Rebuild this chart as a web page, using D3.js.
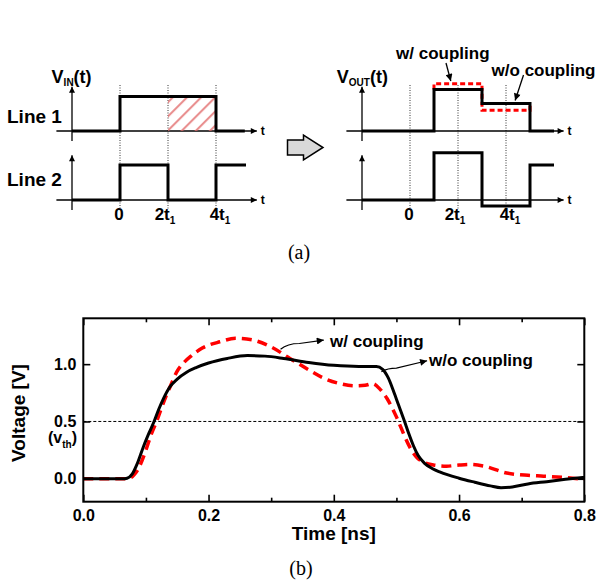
<!DOCTYPE html>
<html lang="en">
<head>
<meta charset="utf-8" />
<title>Coupling waveforms</title>
<script src="https://cdn.jsdelivr.net/npm/d3@7"></script>
<style>
  body { margin: 0; background: #fff; }
  svg text { font-family: "Liberation Sans", Arial, sans-serif; font-weight: bold; fill: #000; }
</style>
</head>
<body>
<script>
// ---- (b) simulated waveforms: time [ns], voltage [V]
var timeNoCoupling = [0, 0.062, 0.07, 0.078, 0.086, 0.096, 0.105, 0.113, 0.12, 0.128, 0.138, 0.15, 0.165, 0.18, 0.2, 0.23, 0.262, 0.29, 0.32, 0.36, 0.4, 0.44, 0.468, 0.478, 0.487, 0.495, 0.503, 0.513, 0.52, 0.527, 0.535, 0.545, 0.557, 0.57, 0.6, 0.625, 0.65, 0.667, 0.685, 0.71, 0.74, 0.77, 0.8];
var voltNoCoupling = [0, 0, 0.005, 0.04, 0.13, 0.28, 0.4, 0.5, 0.6, 0.7, 0.8, 0.87, 0.93, 0.97, 1.01, 1.05, 1.075, 1.07, 1.05, 1.015, 0.99, 0.98, 0.98, 0.955, 0.88, 0.77, 0.65, 0.5, 0.39, 0.29, 0.2, 0.135, 0.09, 0.058, 0.005, -0.03, -0.062, -0.078, -0.072, -0.045, -0.025, -0.005, 0.012];
var timeCoupling = [0, 0.066, 0.074, 0.082, 0.09, 0.1, 0.108, 0.117, 0.125, 0.132, 0.14, 0.149, 0.16, 0.172, 0.19, 0.218, 0.243, 0.271, 0.3, 0.33, 0.36, 0.383, 0.41, 0.434, 0.45, 0.462, 0.474, 0.485, 0.493, 0.5, 0.507, 0.514, 0.522, 0.532, 0.545, 0.559, 0.58, 0.6, 0.617, 0.64, 0.676, 0.71, 0.735, 0.77, 0.8];
var voltCoupling = [0, 0, 0.005, 0.04, 0.11, 0.25, 0.38, 0.5, 0.62, 0.72, 0.82, 0.93, 1.01, 1.07, 1.14, 1.195, 1.225, 1.21, 1.15, 1.05, 0.95, 0.88, 0.83, 0.81, 0.815, 0.83, 0.78, 0.7, 0.62, 0.54, 0.45, 0.36, 0.27, 0.19, 0.14, 0.12, 0.11, 0.12, 0.125, 0.11, 0.05, 0.03, 0.023, 0.01, -0.005];
var timeTicks = [0, 0.2, 0.4, 0.6, 0.8];
var timeMinorTicks = [0.1, 0.3, 0.5, 0.7];
var voltTicks = [0, 0.5, 1.0];
var vth = 0.5;

// ---- (a) idealised steps: time in units of t1, level relative to supply
var schemTicks = [0, 2, 4];
var schemTickMain = ["0", "2t", "4t"];
var schemTickSub = ["", "1", "1"];
var in1Time = [-2, 0, 4, 5.2];
var in1Level = [0, 1, 0, 0];
var in2Time = [-2, 0, 2, 4, 5.25];
var in2Level = [0, 1, 0, 1, 1];
var out1Time = [-2, 1, 3, 5, 6];
var out1Level = [0, 1.2, 0.8, 0, 0];
var out1CoupTime = [1, 1, 3, 5];
var out1CoupLevel = [1.2, 1.37, 0.6, 0.8];
var out2Time = [-2, 1, 3, 5, 6];
var out2Level = [0, 1.35, -0.17, 1.0, 1.0];
var hatchTime = [2, 4];

var w = 600, h = 582;
var svg = d3.select("body").append("svg").attr("width", w).attr("height", h);
var defs = svg.append("defs");

defs.append("marker").attr("id", "arr")
  .attr("viewBox", "0 0 10 10").attr("refX", 10).attr("refY", 5)
  .attr("markerUnits", "userSpaceOnUse").attr("markerWidth", 9).attr("markerHeight", 7)
  .attr("orient", "auto")
  .append("path").attr("d", "M0,0L10,5L0,10z").attr("fill", "#000");

defs.append("marker").attr("id", "axarr")
  .attr("viewBox", "0 0 10 10").attr("refX", 10).attr("refY", 5)
  .attr("markerUnits", "userSpaceOnUse").attr("markerWidth", 7).attr("markerHeight", 6)
  .attr("orient", "auto")
  .append("path").attr("d", "M0,0L10,5L0,10z").attr("fill", "#000");

var pat = defs.append("pattern").attr("id", "hatch")
  .attr("patternUnits", "userSpaceOnUse").attr("width", 10).attr("height", 10)
  .attr("patternTransform", "rotate(45)");
pat.append("line").attr("x1", 1).attr("y1", 0).attr("x2", 1).attr("y2", 10)
  .attr("stroke", "#e26a6a").attr("stroke-width", 2.2).attr("opacity", 0.75);

// ================= (a) =================
var xLeft = d3.scaleLinear().domain([0, 4]).range([120, 216]);
var xRight = d3.scaleLinear().domain([0, 4]).range([410, 506]);
var yRow1 = d3.scaleLinear().domain([0, 1]).range([131, 96.5]);
var yRow2 = d3.scaleLinear().domain([0, 1]).range([200, 165]);

function stepPath(x, y) {
  return d3.line().x(function(d) { return x(d[0]); }).y(function(d) { return y(d[1]); })
    .curve(d3.curveStepAfter);
}

function schemAxes(x, y, tEnd) {
  // horizontal time axis
  svg.append("line")
    .attr("x1", x(-2.65)).attr("x2", x(tEnd)).attr("y1", y(0)).attr("y2", y(0))
    .attr("stroke", "#000").attr("stroke-width", 1.3).attr("marker-end", "url(#axarr)");
  svg.append("text").attr("x", x(tEnd) + 4).attr("y", y(0) + 4)
    .style("font-size", "12px").text("t");
  // vertical axis
  svg.append("line")
    .attr("x1", x(-2)).attr("x2", x(-2)).attr("y1", y(0) + 10).attr("y2", y(1.28))
    .attr("stroke", "#000").attr("stroke-width", 1.3).attr("marker-end", "url(#axarr)");
}

[xLeft, xRight].forEach(function(x, p) {
  var tEnd = p === 0 ? 5.7 : 6.4;
  // dotted guides
  svg.selectAll(null).data(schemTicks).enter().append("line")
    .attr("x1", function(d) { return x(d); }).attr("x2", function(d) { return x(d); })
    .attr("y1", 85).attr("y2", 209)
    .attr("stroke", "#000").attr("stroke-width", 0.8).attr("stroke-dasharray", "1,1.5");
  schemAxes(x, yRow1, tEnd);
  schemAxes(x, yRow2, tEnd);
  // tick labels
  var lab = svg.selectAll(null).data(schemTicks).enter().append("text")
    .attr("x", function(d, i) { return x(d) + [-1, -3, 4][i]; })
    .attr("y", 220).attr("text-anchor", "middle").style("font-size", "17px");
  lab.append("tspan").text(function(d, i) { return schemTickMain[i]; });
  lab.append("tspan").attr("dy", 4).style("font-size", "10px")
    .text(function(d, i) { return schemTickSub[i]; });
});

// hatched window on the input of line 1
svg.append("rect")
  .attr("x", xLeft(hatchTime[0])).attr("y", yRow1(1))
  .attr("width", xLeft(hatchTime[1]) - xLeft(hatchTime[0]))
  .attr("height", yRow1(0) - yRow1(1))
  .attr("fill", "url(#hatch)");

function drawStep(x, y, t, v, color, dash) {
  svg.append("path").datum(d3.zip(t, v))
    .attr("d", stepPath(x, y))
    .attr("fill", "none").attr("stroke", color).attr("stroke-width", 3)
    .attr("stroke-dasharray", dash || null);
}
drawStep(xLeft, yRow1, in1Time, in1Level, "#000");
drawStep(xLeft, yRow2, in2Time, in2Level, "#000");
drawStep(xRight, yRow1, out1CoupTime, out1CoupLevel, "#f00", "5,3");
drawStep(xRight, yRow1, out1Time, out1Level, "#000");
drawStep(xRight, yRow2, out2Time, out2Level, "#000");

// row labels
svg.append("text").attr("x", 7).attr("y", 123).style("font-size", "19px").text("Line 1");
svg.append("text").attr("x", 7).attr("y", 186).style("font-size", "19px").text("Line 2");

function sigLabel(x, y, sub) {
  var t = svg.append("text").attr("x", x).attr("y", y).style("font-size", "18px");
  t.append("tspan").text("V");
  t.append("tspan").attr("dy", 3).style("font-size", "10px").text(sub);
  t.append("tspan").attr("dy", -3).text("(t)");
}
sigLabel(xLeft(-2.85), 83, "IN");
sigLabel(xRight(-3.05), 83, "OUT");

// annotations on the output sketch
svg.append("text").attr("x", xRight(-0.58)).attr("y", 59).style("font-size", "17px").text("w/ coupling");
svg.append("line").attr("x1", xRight(1.5)).attr("y1", 63).attr("x2", xRight(1.7)).attr("y2", 81)
  .attr("stroke", "#000").attr("stroke-width", 1.3).attr("marker-end", "url(#arr)");
svg.append("text").attr("x", xRight(3.4)).attr("y", 76).style("font-size", "17px").text("w/o coupling");
svg.append("line").attr("x1", xRight(4.73)).attr("y1", 75).attr("x2", xRight(4.38)).attr("y2", 100.5)
  .attr("stroke", "#000").attr("stroke-width", 1.3).attr("marker-end", "url(#arr)");

// block arrow between the panels
svg.append("path")
  .attr("d", "M287.5,140L303.5,140L303.5,135L323,147.5L303.5,160L303.5,155L287.5,155Z")
  .attr("fill", "#d9d9d9").attr("stroke", "#000").attr("stroke-width", 1.5);

svg.append("text").attr("x", 299).attr("y", 259).attr("text-anchor", "middle")
  .style("font-family", "'Liberation Serif', 'Times New Roman', serif")
  .style("font-weight", "normal").style("font-size", "20px").text("(a)");

// ================= (b) =================
var plotLeft = 83.3, plotRight = 584.3, plotTop = 318.3, plotBottom = 501.7;
var x = d3.scaleLinear().domain([0, 0.8]).range([plotLeft, plotRight]);
var y = d3.scaleLinear().domain([-0.2, 1.4]).range([plotBottom, plotTop]);

function styleAxis(g) {
  g.select(".domain").remove();
  g.selectAll(".tick line").attr("stroke", "#000").attr("stroke-width", 1.6);
  g.selectAll(".tick text").style("font-size", "16px");
}

svg.append("g").attr("transform", "translate(0," + plotBottom + ")")
  .call(d3.axisBottom(x).tickValues(timeTicks).tickSize(-7).tickPadding(8).tickFormat(d3.format(".1f")))
  .call(styleAxis);
svg.append("g").attr("transform", "translate(0," + plotBottom + ")")
  .call(d3.axisBottom(x).tickValues(timeMinorTicks).tickSize(-4).tickFormat(""))
  .call(styleAxis);
svg.append("g").attr("transform", "translate(0," + plotTop + ")")
  .call(d3.axisTop(x).tickValues(timeTicks).tickSize(-7).tickFormat(""))
  .call(styleAxis);
svg.append("g").attr("transform", "translate(0," + plotTop + ")")
  .call(d3.axisTop(x).tickValues(timeMinorTicks).tickSize(-4).tickFormat(""))
  .call(styleAxis);
svg.append("g").attr("transform", "translate(" + plotLeft + ",0)")
  .call(d3.axisLeft(y).tickValues(voltTicks).tickSize(-7).tickPadding(7).tickFormat(d3.format(".1f")))
  .call(styleAxis);
svg.append("g").attr("transform", "translate(" + plotRight + ",0)")
  .call(d3.axisRight(y).tickValues(voltTicks).tickSize(-7).tickFormat(""))
  .call(styleAxis);

defs.append("clipPath").attr("id", "plotclip").append("rect")
  .attr("x", plotLeft).attr("y", plotTop)
  .attr("width", plotRight - plotLeft).attr("height", plotBottom - plotTop);

// threshold
svg.append("line")
  .attr("x1", x(0)).attr("x2", x(0.8)).attr("y1", y(vth)).attr("y2", y(vth))
  .attr("stroke", "#000").attr("stroke-width", 1).attr("stroke-dasharray", "3,2");

var curve = d3.line().x(function(d) { return x(d[0]); }).y(function(d) { return y(d[1]); })
  .curve(d3.curveMonotoneX);

var plot = svg.append("g").attr("clip-path", "url(#plotclip)");
plot.append("path").datum(d3.zip(timeCoupling, voltCoupling))
  .attr("d", curve).attr("fill", "none").attr("stroke", "#f00")
  .attr("stroke-width", 3.5).attr("stroke-dasharray", "10,6");
plot.append("path").datum(d3.zip(timeNoCoupling, voltNoCoupling))
  .attr("d", curve).attr("fill", "none").attr("stroke", "#000")
  .attr("stroke-width", 3);

// frame
svg.append("rect").attr("x", plotLeft).attr("y", plotTop)
  .attr("width", plotRight - plotLeft).attr("height", plotBottom - plotTop)
  .attr("fill", "none").attr("stroke", "#000").attr("stroke-width", 2);

// callouts
svg.append("path")
  .attr("d", "M" + x(0.315) + "," + y(1.13) + "Q" + x(0.326) + "," + y(1.18) + " " + x(0.345) + "," + y(1.18) +
    "L" + x(0.384) + "," + y(1.21))
  .attr("fill", "none").attr("stroke", "#000").attr("stroke-width", 1.2).attr("marker-end", "url(#arr)");
svg.append("text").attr("x", x(0.394)).attr("y", y(1.148)).style("font-size", "17px").text("w/ coupling");
svg.append("path")
  .attr("d", "M" + x(0.476) + "," + y(0.935) + "Q" + x(0.486) + "," + y(0.965) + " " + x(0.5) + "," + y(0.965) +
    "L" + x(0.549) + "," + y(1.03))
  .attr("fill", "none").attr("stroke", "#000").attr("stroke-width", 1.2).attr("marker-end", "url(#arr)");
svg.append("text").attr("x", x(0.552)).attr("y", y(0.985)).style("font-size", "17px").text("w/o coupling");

// v_th note under the 0.5 tick
var vt = svg.append("text").attr("x", 48).attr("y", 443);
vt.append("tspan").style("font-size", "16px").text("(v");
vt.append("tspan").attr("dy", 5).style("font-size", "10px").text("th");
vt.append("tspan").attr("dy", -5).style("font-size", "16px").text(")");

// axis titles
svg.append("text").attr("transform", "translate(25,413) rotate(-90)")
  .attr("text-anchor", "middle").style("font-size", "19px").text("Voltage [V]");
svg.append("text").attr("x", (plotLeft + plotRight) / 2).attr("y", 540)
  .attr("text-anchor", "middle").style("font-size", "19px").text("Time [ns]");

svg.append("text").attr("x", 301).attr("y", 575).attr("text-anchor", "middle")
  .style("font-family", "'Liberation Serif', 'Times New Roman', serif")
  .style("font-weight", "normal").style("font-size", "20px").text("(b)");
</script>
</body>
</html>
